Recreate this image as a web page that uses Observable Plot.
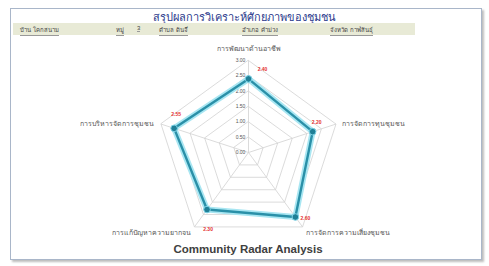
<!DOCTYPE html>
<html><head><meta charset="utf-8">
<script src="https://cdn.jsdelivr.net/npm/d3@7"></script>
<script src="https://cdn.jsdelivr.net/npm/@observablehq/plot@0.6"></script>
<style>
body{margin:0;background:#fff;}
#wrap{position:relative;width:489px;height:266px;overflow:hidden;font-family:"Liberation Sans",Arial,sans-serif;background:#fff;}
#frame{position:absolute;left:10px;top:8px;width:470px;height:250px;border:1.5px solid #a9b6c9;box-shadow:1.5px 1.5px 2px #bdbdbd;}
#title{position:absolute;left:0;width:489px;top:8px;text-align:center;font-size:11px;color:#2b3a8c;white-space:nowrap;}
#info{position:absolute;left:13px;top:23px;width:402px;height:12px;background:#e8ead6;font-size:6px;color:#444;}
#info span{position:absolute;top:2px;white-space:nowrap;border-bottom:0.6px solid #999;}
#bottom{position:absolute;left:0;width:496px;top:243px;text-align:center;font-size:11.5px;color:#404040;font-weight:bold;}
#chart{position:absolute;left:0;top:0;}
</style>
</head><body>
<div id="wrap">
  <div id="frame"></div>
  <div id="title"></div>
  <div id="info"></div>
  <div id="chart"></div>
  <div id="bottom"></div>
</div>
<script>
const chartTitle = "สรุปผลการวิเคราะห์ศักยภาพของชุมชน";
const bottomTitle = "Community Radar Analysis";
const infoLabels = ["บ้าน โคกสนาม", "หมู่", "3", "ตำบล ดินจี่", "อำเภอ คำม่วง", "จังหวัด กาฬสินธุ์"];
const categories = ["การพัฒนาด้านอาชีพ", "การจัดการทุนชุมชน", "การจัดการความเสี่ยงชุมชน", "การแก้ปัญหาความยากจน", "การบริหารจัดการชุมชน"];
const values = [2.40, 2.20, 2.60, 2.30, 2.55];
const ticks = [0, 0.5, 1.0, 1.5, 2.0, 2.5, 3.0];
const tickLabels = ["0.00", "0.50", "1.00", "1.50", "2.00", "2.50", "3.00"];

document.getElementById("title").textContent = chartTitle;
document.getElementById("bottom").textContent = bottomTitle;
const infoX = [7, 103, 124, 146, 229, 317];
const info = document.getElementById("info");
infoLabels.forEach((t, i) => {
  const s = document.createElement("span");
  s.textContent = t;
  s.style.left = infoX[i] + "px";
  info.appendChild(s);
});

const n = categories.length;
const ang = i => 2 * Math.PI * i / n;
const pt = (r, i) => ({x: r * Math.sin(ang(i)), y: r * Math.cos(ang(i))});
const rMax = d3.max(ticks);

// scale: center at (248,152), 3 units = 92px
const W = 489, H = 266, cx = 248, cy = 152, pxPer = 92 / rMax;
const xDomain = [-cx / pxPer, (W - cx) / pxPer];
const yDomain = [-(H - cy) / pxPer, cy / pxPer];

const rings = ticks.filter(t => t > 0).flatMap(t => categories.map((c, i) => ({...pt(t, i), ring: t})));
const spokes = categories.map((c, i) => ({x1: 0, y1: 0, x2: pt(rMax, i).x, y2: pt(rMax, i).y}));
const series = values.map((v, i) => ({...pt(v, i), v, cat: categories[i], i}));
const axisLbl = categories.map((c, i) => ({...pt(rMax, i), c, i}));
const tickData = ticks.map((t, k) => ({x: 0, y: t, label: tickLabels[k]}));

const valOffsets = [[14, -10], [4, -9], [10, 1], [1, 20], [2, -14]];
const axisStyle = [
  {anchor: "middle", dx: 0, dy: -12},
  {anchor: "start", dx: 6, dy: 0},
  {anchor: "start", dx: 3, dy: 6},
  {anchor: "end", dx: -3, dy: 6},
  {anchor: "end", dx: -7, dy: 0}
];

const marks = [
  Plot.line(rings, {x: "x", y: "y", z: "ring", curve: "linear-closed", stroke: "#d2d2d2", strokeWidth: 0.8}),
  Plot.link(spokes, {x1: "x1", y1: "y1", x2: "x2", y2: "y2", stroke: "#d2d2d2", strokeWidth: 0.8}),
  Plot.text(tickData, {x: "x", y: "y", text: "label", dx: -8, fontSize: 5, fill: "#555"}),
  Plot.line(series, {x: "x", y: "y", curve: "linear-closed", stroke: "#a8e6f2", strokeWidth: 6, strokeLinejoin: "round"}),
  Plot.line(series, {x: "x", y: "y", curve: "linear-closed", stroke: "#2a90a8", strokeWidth: 2.4, strokeLinejoin: "round"}),
  Plot.dot(series, {x: "x", y: "y", r: 3.3, fill: "#1f7f96", stroke: "#7fd3e6", strokeWidth: 1})
];
series.forEach((d, i) => {
  marks.push(Plot.text([d], {x: "x", y: "y", text: e => e.v.toFixed(2), dx: valOffsets[i][0], dy: valOffsets[i][1], fontSize: 5, fill: "#e53030", fontWeight: "bold"}));
});
axisLbl.forEach((d, i) => {
  const s = axisStyle[i];
  marks.push(Plot.text([d], {x: "x", y: "y", text: "c", textAnchor: s.anchor, dx: s.dx, dy: s.dy, fontSize: 7, fill: "#555"}));
});

const plot = Plot.plot({
  width: W, height: H,
  margin: 0,
  x: {domain: xDomain, axis: null},
  y: {domain: yDomain, axis: null},
  style: {background: "transparent", fontFamily: "'Liberation Sans', Arial, sans-serif"},
  marks
});
document.getElementById("chart").appendChild(plot);
</script>
</body></html>
